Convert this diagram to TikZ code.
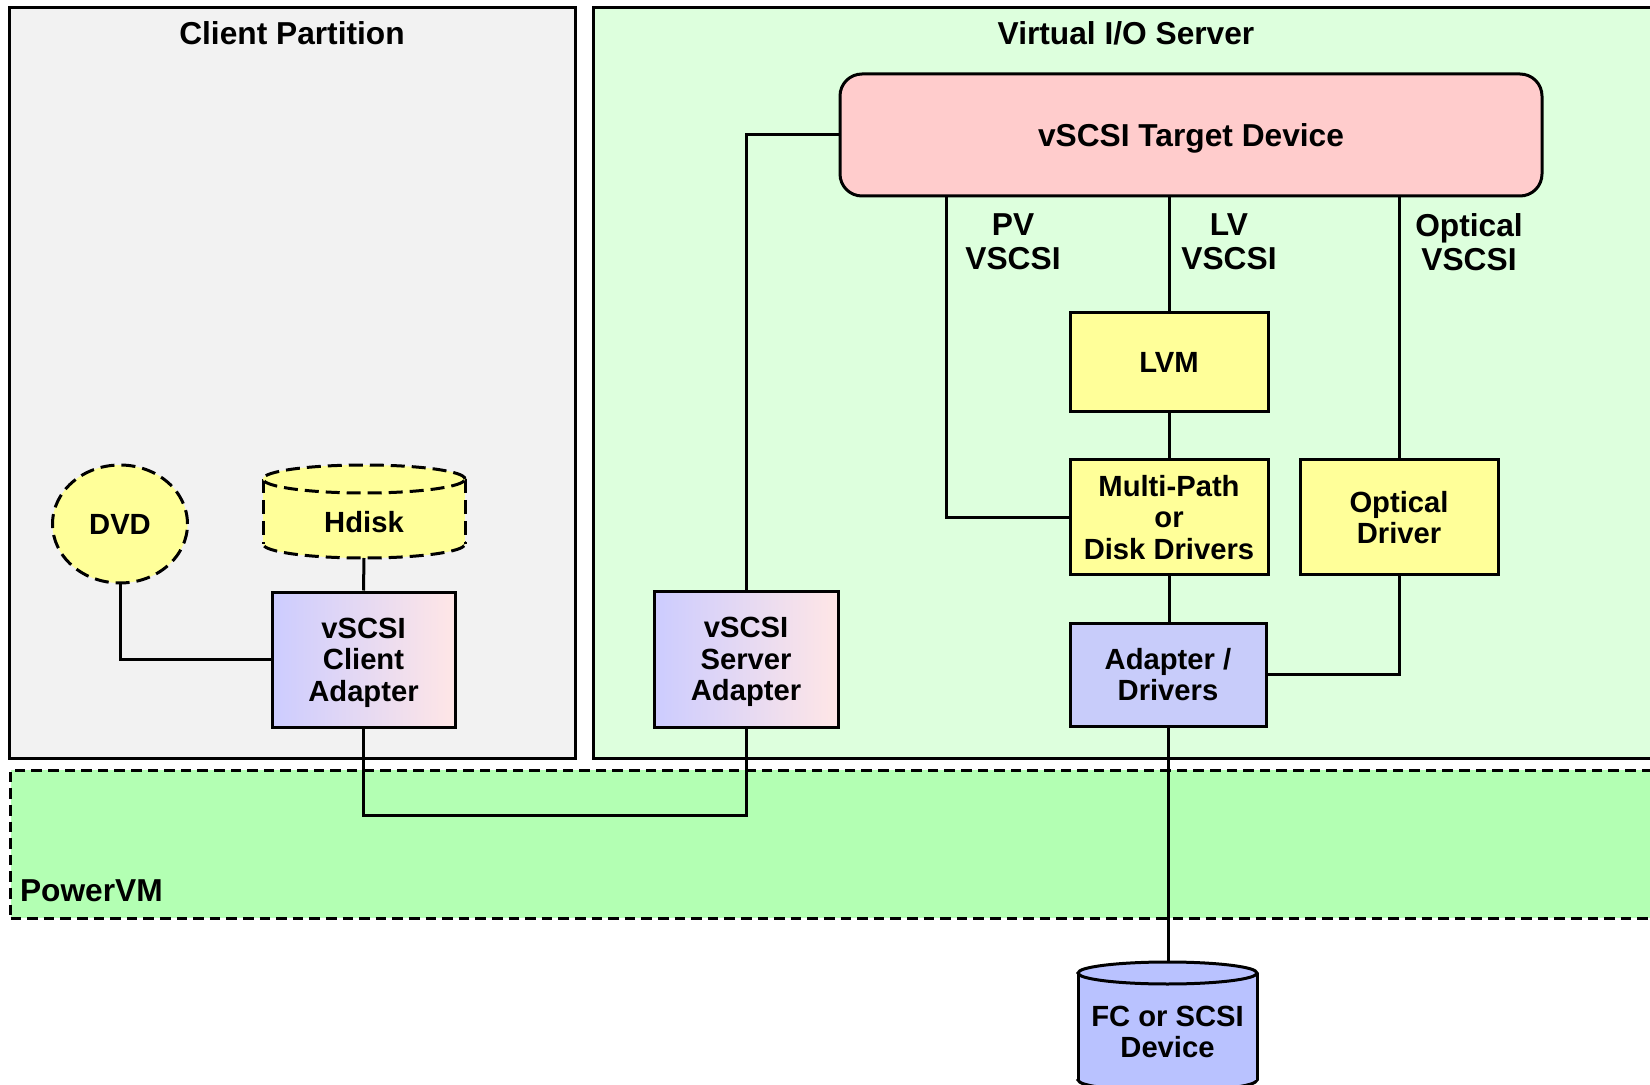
\documentclass[tikz,border=0pt]{standalone}
\usepackage{fontspec}
\setmainfont{Liberation Sans}
\usetikzlibrary{shapes.geometric}
\definecolor{clientbg}{RGB}{242,242,242}
\definecolor{viobg}{RGB}{221,255,221}
\definecolor{pvmbg}{RGB}{179,255,179}
\definecolor{tgtred}{RGB}{255,204,204}
\definecolor{yel}{RGB}{255,255,153}
\definecolor{adL}{RGB}{204,204,255}
\definecolor{adR}{RGB}{255,230,230}
\definecolor{adblue}{RGB}{200,204,250}
\definecolor{fcblue}{RGB}{185,194,255}
\begin{document}
\begin{tikzpicture}[x=0.5pt,y=-0.5pt,
  big/.style={font=\fontsize{15.85}{16.8}\selectfont\bfseries},
  sm/.style={font=\fontsize{14.6}{15.8}\selectfont\bfseries},
  box/.style={draw, line width=1.5pt, inner sep=0pt, align=center, sm},
  ybox/.style={box, fill=yel},
  adbox/.style={box, left color=adL, right color=adR, text depth=0pt},
  conn/.style={line width=1.5pt},
  region/.style={draw, line width=1.5pt, inner sep=0pt},
  dashedge/.style={line width=1.5pt, dash pattern=on 7pt off 3.5pt},
]
\useasboundingbox (0,0) rectangle (1650,1085);
\clip (0,0) rectangle (1650,1085);
\fill[white] (0,0) rectangle (1650,1085);

% regions
\node[region, fill=clientbg, minimum width=283pt, minimum height=375.65pt] (client) at (292.5,383) {};
\node[region, fill=viobg, minimum width=534.25pt, minimum height=375.65pt] (vio) at (1127.75,383) {};
\node[region, fill=pvmbg, dash pattern=on 5.3pt off 3pt, minimum width=825.75pt, minimum height=74pt] (pvm) at (836.25,844) {};
\node[big] (clienttitle) at (292,33) {Client Partition};
\node[big] (viotitle) at (1126,33) {Virtual I/O Server};
\node[big, anchor=west] (pvmtitle) at (13,891) {PowerVM};

% VIO server nodes
\node[box, big, fill=tgtred, rounded corners=11pt, text depth=0pt, minimum width=351pt, minimum height=61pt] (tgt) at (1191,135) {vSCSI Target Device};
\node[ybox, minimum width=99pt, minimum height=49.5pt] (lvm) at (1169,362) {LVM};
\node[ybox, minimum width=99pt, minimum height=57.5pt] (mp) at (1169,517.5) {Multi-Path\\or\\Disk Drivers};
\node[ybox, minimum width=99pt, minimum height=57.5pt] (opt) at (1399,517.5) {Optical\\Driver};
\node[box, fill=adblue, minimum width=98pt, minimum height=51.5pt] (ad) at (1168,674.5) {Adapter /\\Drivers};
\node[adbox, minimum width=92pt, minimum height=68pt] (server) at (746,659) {vSCSI\\Server\\Adapter};
\node[big, align=center] (pvlbl) at (1013,242) {PV\\VSCSI};
\node[big, align=center] (lvlbl) at (1229,242) {LV\\VSCSI};
\node[big, align=center] (optlbl) at (1469,242) {Optical\\VSCSI};

% client nodes
\node[adbox, minimum width=91.5pt, minimum height=67.5pt] (cad) at (363.5,659.5) {vSCSI\\Client\\Adapter};
\node[draw, ellipse, fill=yel, dashedge, minimum width=67.5pt, minimum height=59pt, inner sep=0pt, sm] (dvd) at (120,524) {DVD};

% Hdisk cylinder
\path[fill=yel, draw, dashedge] (364,544) ellipse [x radius=50.5pt, y radius=7pt];
\fill[yel] (263,479) rectangle (465,544);
\draw[dashedge] (263,479) -- (263,544) (465,479) -- (465,544);
\path[fill=yel, draw, dashedge] (364,479) ellipse [x radius=50.5pt, y radius=7pt];
\node[sm] (hdisk) at (364,522) {Hdisk};
\coordinate (hdiskbot) at (364,558);

% FC device cylinder
\path[fill=fcblue, draw, line width=1.5pt] (1167.5,1080) ellipse [x radius=44.75pt, y radius=5.5pt];
\fill[fcblue] (1078,973) rectangle (1257,1080);
\draw[line width=1.5pt] (1078,973) -- (1078,1080) (1257,973) -- (1257,1080);
\path[fill=fcblue, draw, line width=1.5pt] (1167.5,973) ellipse [x radius=44.75pt, y radius=5.5pt];
\node[sm, align=center] (fc) at (1167.5,1032) {FC or SCSI\\Device};
\coordinate (fctop) at (1167.5,962);

% connectors
\coordinate (pvx) at (946,0);
\draw[conn] (tgt.south -| pvx) |- (mp.west);
\draw[conn] (tgt.west) -| (server.north);
\draw[conn] (lvm.north) -- (lvm.north |- tgt.south);
\draw[conn] (lvm.south) -- (mp.north);
\draw[conn] (opt.north) -- (opt.north |- tgt.south);
\draw[conn] (opt.south) |- (ad.east);
\draw[conn] (mp.south) -- (mp.south |- ad.north);
\draw[conn] (ad.south) -- (ad.south |- fctop);
\draw[conn] (hdiskbot) -- (cad.north);
\draw[conn] (dvd.south) |- (cad.west);
\draw[conn] (cad.south) -- ++(0,87) -| (server.south);
\end{tikzpicture}
\end{document}
